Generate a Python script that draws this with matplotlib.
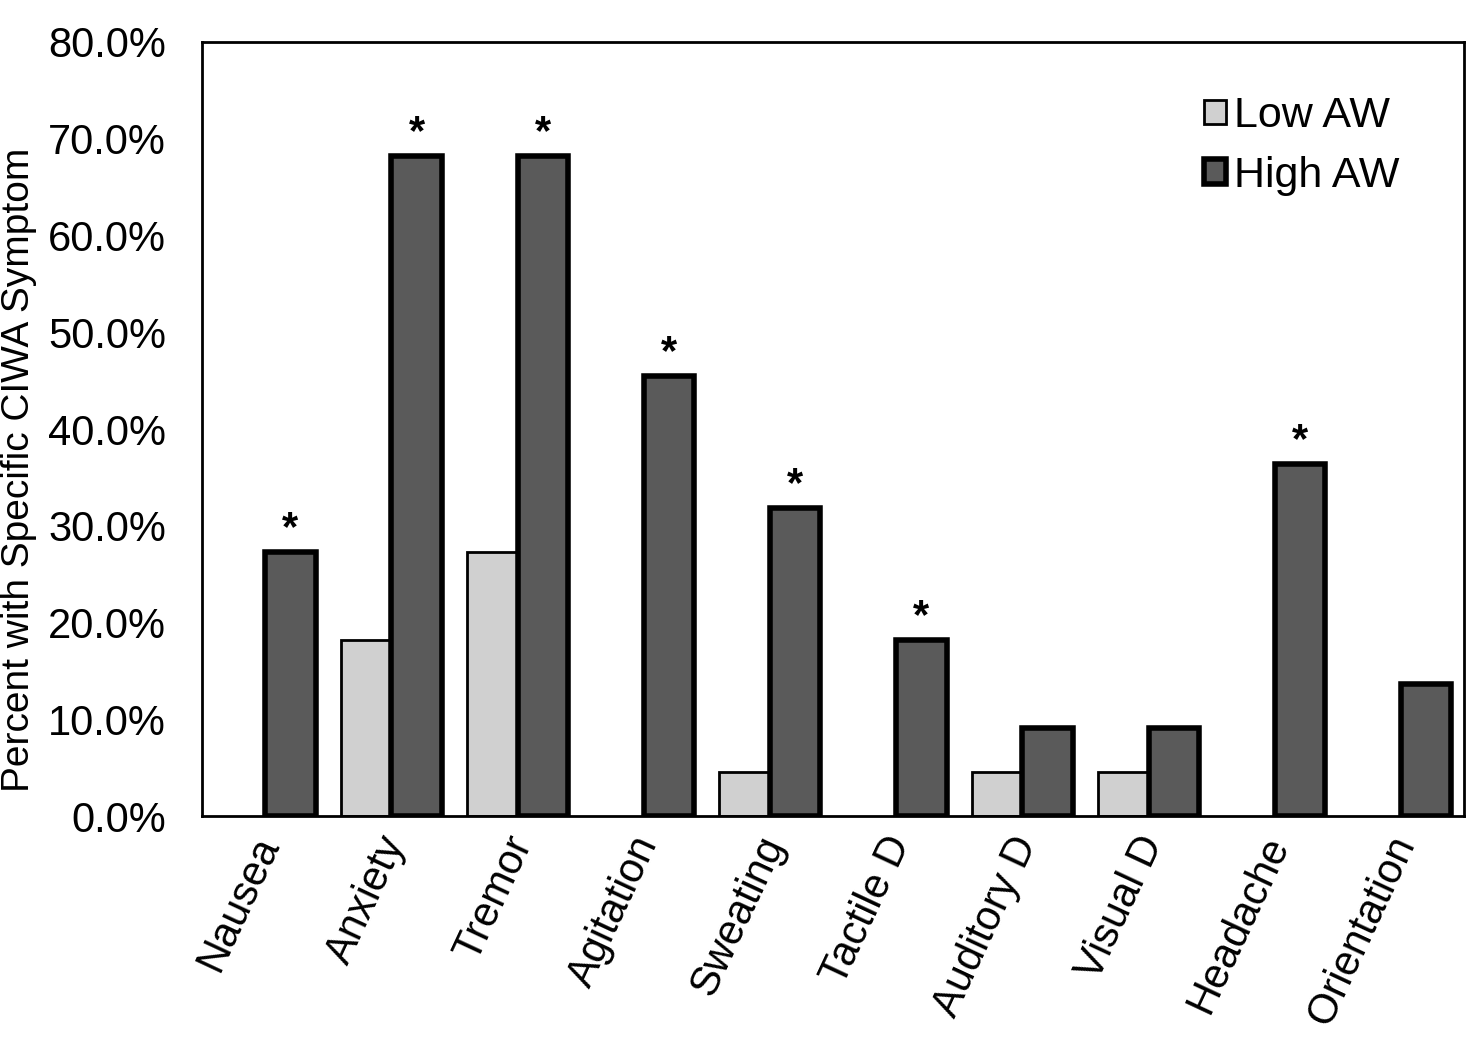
import numpy as np
import matplotlib.pyplot as plt
from matplotlib.transforms import ScaledTranslation

plt.rcParams['font.family'] = ['Liberation Sans', 'DejaVu Sans']

symptoms = ['Nausea', 'Anxiety', 'Tremor', 'Agitation', 'Sweating',
            'Tactile D', 'Auditory D', 'Visual D', 'Headache', 'Orientation']
low_aw = [0.0, 18.2, 27.3, 0.0, 4.5, 0.0, 4.5, 4.5, 0.0, 0.0]
high_aw = [27.3, 68.2, 68.2, 45.5, 31.8, 18.2, 9.1, 9.1, 36.4, 13.6]
significant = [True, True, True, True, True, True, False, False, True, False]

fig = plt.figure(figsize=(14.67, 10.47), dpi=100)
ax = fig.add_axes([0.1377, 0.2206, 0.8603, 0.7393])

x = np.arange(len(symptoms))
w = 0.4
low = [v if v > 0 else np.nan for v in low_aw]
ax.bar(x - w / 2, low, w, color='#d0d0d0', edgecolor='black', linewidth=2, label='Low AW')
ax.bar(x + w / 2, high_aw, w, color='#5a5a5a', edgecolor='black', linewidth=4, label='High AW')

for xi, v, s in zip(x, high_aw, significant):
    if s:
        ax.text(xi + w / 2, v + 0.3, '*', ha='center', va='bottom', fontsize=30, fontweight='bold')

ax.set_xlim(-0.5, len(symptoms) - 0.5)
ax.set_ylim(0, 80)
ax.set_yticks(np.arange(0, 81, 10))
ax.set_yticklabels([f'{t:.1f}%' for t in np.arange(0, 81, 10)], fontsize=30)
ax.set_xticks(x)
ax.set_xticklabels([])
# category labels, nudged a little left of the tick position
lbl_tr = ax.get_xaxis_transform() + ScaledTranslation(-10 / 72, -10 / 72, fig.dpi_scale_trans)
for xi, name in zip(x, symptoms):
    ax.text(xi, 0, name, transform=lbl_tr, fontsize=30, rotation=65,
            ha='right', va='top', rotation_mode='anchor')
ax.tick_params(axis='y', length=0, pad=26)
ax.tick_params(axis='x', length=0)
for sp in ax.spines.values():
    sp.set_linewidth(2)
ax.set_ylabel('Percent with Specific CIWA Symptom', fontsize=28, labelpad=8, y=0.447)

ax.legend(loc='upper right', fontsize=31, frameon=False, handlelength=0.5, handleheight=0.5,
          handletextpad=0.2, labelspacing=0.46, borderaxespad=0, borderpad=0,
          bbox_to_anchor=(0.949, 0.93))

fig.savefig('out.png', dpi=100)
